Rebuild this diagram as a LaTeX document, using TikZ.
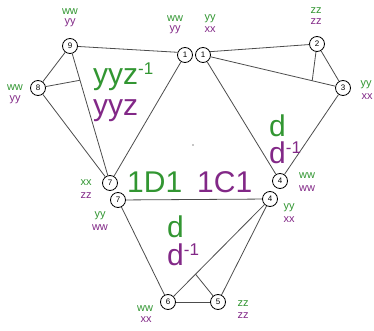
\documentclass[tikz,border=0pt]{standalone}
\usepackage{fontspec}
\setmainfont{Liberation Sans}
\usetikzlibrary{calc}
\definecolor{lgreen}{RGB}{50,150,50}
\definecolor{lpurple}{RGB}{130,40,135}
\newcommand{\inv}{\raisebox{10pt}{\fontsize{17}{17}\selectfont -1}}
\tikzset{
  vtx/.style={draw, circle, fill=white, minimum size=15pt, inner sep=0pt, line width=0.8pt, font=\fontsize{8}{8}\selectfont},
  lnk/.style={draw=black!70, line width=0.8pt},
  glbl/.style={text=lgreen, inner sep=0pt, font=\fontsize{11}{11}\selectfont},
  plbl/.style={text=lpurple, inner sep=0pt, font=\fontsize{11}{11}\selectfont},
  gbig/.style={text=lgreen, inner sep=0pt, anchor=base west, font=\fontsize{30}{30}\selectfont},
  pbig/.style={text=lpurple, inner sep=0pt, anchor=base west, font=\fontsize{30}{30}\selectfont},
}
\begin{document}
\begin{tikzpicture}[x=1pt, y=-1pt]
\useasboundingbox (0,0) rectangle (374,331);

% Vertices
\node[vtx] (n9) at (70,46) {9};
\node[vtx] (n8) at (38,88) {8};
\node[vtx] (n1a) at (185,55) {1};
\node[vtx] (n1b) at (203,55) {1};
\node[vtx] (n2) at (317,44) {2};
\node[vtx] (n3) at (343,88) {3};
\node[vtx] (n4a) at (280,181) {4};
\node[vtx] (n4b) at (270,199) {4};
\node[vtx] (n7a) at (110,183) {7};
\node[vtx] (n7b) at (118,200) {7};
\node[vtx] (n6) at (168,302) {6};
\node[vtx] (n5) at (218,302) {5};

% Points where short edges meet long ones
\coordinate (p23) at ($(n1b)!0.78!(n3)$);
\coordinate (p89) at ($(n9)!0.25!(n7a)$);
\coordinate (p56) at ($(n6)!0.27!(n4b)$);

% Edges
\draw[lnk] (n9) -- (n1a.160);
\draw[lnk] (n1b.25) -- (n2);
\draw[lnk] (n1b) -- (n3);
\draw[lnk] (n2) -- (n3);
\draw[lnk] (n2) -- (p23);
\draw[lnk] (n9) -- (n8);
\draw[lnk] (n9) -- (n7a);
\draw[lnk] (n8) -- (n7a);
\draw[lnk] (n8) -- (p89);
\draw[lnk] (n1a) -- (n7a);
\draw[lnk] (n1b) -- (n4a);
\draw[lnk] (n3) -- (n4a);
\draw[lnk] (n7b) -- (n4b);
\draw[lnk] (n7b) -- (n6);
\draw[lnk] (n4b) -- (n6);
\draw[lnk] (n4b) -- (n5);
\draw[lnk] (n6) -- (n5);
\draw[lnk] (n5) -- (p56);

% Centre mark
\node[circle, fill=black!45, inner sep=0.7pt] (mark) at (193,145) {};

% Face labels
\node[gbig] (f1g) at (93,85) {yyz\inv};
\node[pbig] (f1p) at (93,116) {yyz};
\node[gbig] (f2g) at (269,136) {d};
\node[pbig] (f2p) at (269,164) {d\inv};
\node[gbig] (f3g) at (127,192) {1D1};
\node[pbig] (f3p) at (197,192) {1C1};
\node[gbig] (f4g) at (167,237) {d};
\node[pbig] (f4p) at (167,265) {d\inv};

% Vertex labels
\node[glbl] (l9g) at (70,12) {ww};
\node[plbl] (l9p) at (70,23) {yy};
\node[glbl] (l1ag) at (175,19) {ww};
\node[plbl] (l1ap) at (175,30) {yy};
\node[glbl] (l1bg) at (210,19) {yy};
\node[plbl] (l1bp) at (210,30) {xx};
\node[glbl] (l2g) at (316,11) {zz};
\node[plbl] (l2p) at (316,22) {zz};
\node[glbl] (l3g) at (366,85) {yy};
\node[plbl] (l3p) at (367,97) {xx};
\node[glbl] (l8g) at (15,88) {ww};
\node[plbl] (l8p) at (15,100) {yy};
\node[glbl] (l7ag) at (86,183) {xx};
\node[plbl] (l7ap) at (86,196) {zz};
\node[glbl] (l7bg) at (100,216) {yy};
\node[plbl] (l7bp) at (100,228) {ww};
\node[glbl] (l4ag) at (307,176) {ww};
\node[plbl] (l4ap) at (307,189) {ww};
\node[glbl] (l4bg) at (289,208) {yy};
\node[plbl] (l4bp) at (289,220) {xx};
\node[glbl] (l6g) at (145,309) {ww};
\node[plbl] (l6p) at (146,320) {xx};
\node[glbl] (l5g) at (243,304) {zz};
\node[plbl] (l5p) at (243,316) {zz};

\end{tikzpicture}
\end{document}
